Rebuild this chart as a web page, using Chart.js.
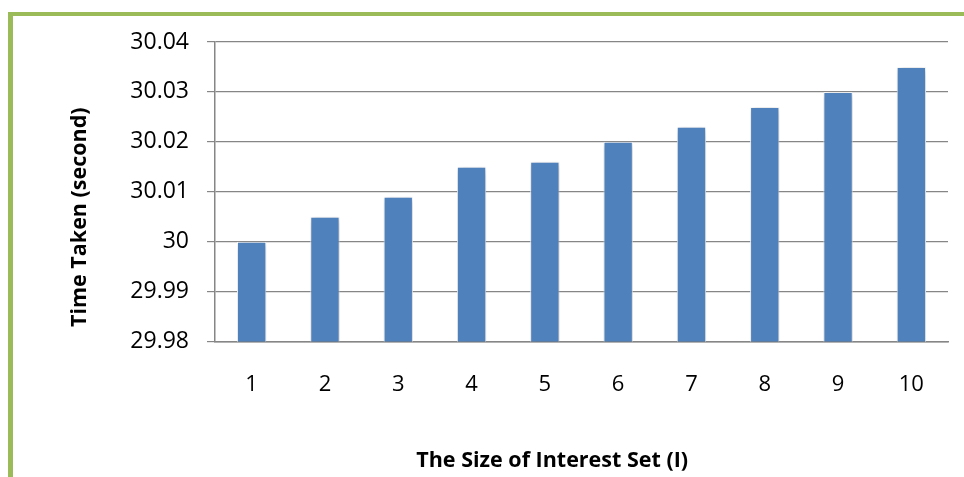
<!DOCTYPE html>
<html>
<head>
<meta charset="utf-8">
<script src="https://cdn.jsdelivr.net/npm/chart.js@4/dist/chart.umd.min.js"></script>
<style>
  html, body { margin: 0; padding: 0; background: #fff; }
  #wrap { position: relative; width: 964px; height: 477px; overflow: hidden; }
  #frame { position: absolute; left: 8px; top: 12px; width: 1000px; height: 500px;
           border-left: 5px solid #9bbb59; border-top: 4px solid #9bbb59; box-sizing: border-box; }
  canvas { position: absolute; left: 0; top: 0; }
</style>
</head>
<body>
<div id="wrap">
  <div id="frame"></div>
  <canvas id="c" width="964" height="477"></canvas>
</div>
<script>
const categories = ['1', '2', '3', '4', '5', '6', '7', '8', '9', '10'];
const timeTaken = [30.000, 30.005, 30.009, 30.015, 30.016, 30.020, 30.023, 30.027, 30.030, 30.035];
const yTicks = [29.98, 29.99, 30.00, 30.01, 30.02, 30.03, 30.04];
const xTitle = 'The Size of Interest Set (I)';
const yTitle = 'Time Taken (second)';

const shadowPlugin = {
  id: 'barShadow',
  beforeDatasetsDraw(chart) {
    const ctx = chart.ctx;
    ctx.save();
    ctx.shadowColor = 'rgba(0,0,0,0.28)';
    ctx.shadowBlur = 7;
    ctx.shadowOffsetX = 1;
    ctx.shadowOffsetY = 1;
  },
  afterDatasetsDraw(chart) {
    chart.ctx.restore();
  }
};

const titlesPlugin = {
  id: 'axisTitles',
  afterDraw(chart) {
    const ctx = chart.ctx;
    const a = chart.chartArea;
    ctx.save();
    ctx.fillStyle = '#000';
    ctx.font = 'bold 21.5px "Open Sans"';
    ctx.textAlign = 'center';
    ctx.textBaseline = 'middle';
    ctx.fillText(xTitle, a.left + a.width * 0.46, 461);
    ctx.translate(80, a.top + a.height * 0.585);
    ctx.rotate(-Math.PI / 2);
    ctx.fillText(yTitle, 0, 0);
    ctx.restore();
  }
};

new Chart(document.getElementById('c'), {
  type: 'bar',
  data: {
    labels: categories,
    datasets: [{
      data: timeTaken,
      backgroundColor: '#4f81bd',
      borderColor: '#ffffff',
      borderWidth: 1,
      borderSkipped: false,
      barPercentage: 0.4,
      categoryPercentage: 1.0
    }]
  },
  options: {
    responsive: false,
    animation: false,
    events: [],
    layout: { padding: { left: 0, right: 16, top: 42, bottom: 0 } },
    plugins: { legend: { display: false }, tooltip: { enabled: false }, title: { display: false } },
    scales: {
      x: {
        grid: { display: false, drawTicks: false },
        border: { display: true, color: '#868686', width: 1.5 },
        ticks: { color: '#000', font: { family: 'Open Sans', size: 22 }, padding: 30, maxRotation: 0 },
        afterFit(scale) { scale.height = 135.5; }
      },
      y: {
        min: 29.98,
        max: 30.04,
        afterBuildTicks(scale) { scale.ticks = yTicks.map(v => ({ value: v })); },
        grid: { color: '#868686', lineWidth: 1.2, tickLength: 8, drawTicks: true },
        border: { display: true, color: '#868686', width: 1.5 },
        ticks: {
          color: '#000',
          font: { family: 'Open Sans', size: 23 },
          padding: 18,
          callback: v => String(+Number(v).toFixed(2))
        },
        afterFit(scale) { scale.width = 215; }
      }
    }
  },
  plugins: [shadowPlugin, titlesPlugin]
});
</script>
</body>
</html>
